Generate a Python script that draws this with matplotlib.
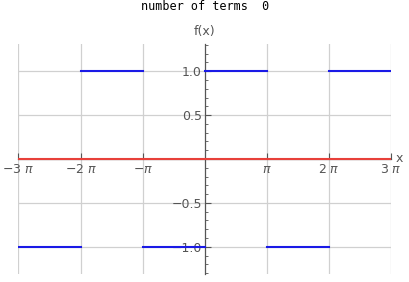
import numpy as np
import matplotlib
matplotlib.use("Agg")
import matplotlib.pyplot as plt
from matplotlib.ticker import MultipleLocator, FixedLocator

# Square wave pieces (start, end in units of pi) and values
seg_start = [-3, -2, -1, 0, 1, 2]
seg_end = [-2, -1, 0, 1, 2, 3]
seg_val = [-1, 1, -1, 1, -1, 1]
# Fourier approximation with 0 terms
approx_x = [-3, 3]
approx_y = [0, 0]
n_terms = 0
xtick_vals = [-3, -2, -1, 1, 2, 3]
xtick_labels = ["\u22123 $\\pi$", "\u22122 $\\pi$", "\u2212$\\pi$", "$\\pi$", "2 $\\pi$", "3 $\\pi$"]
ytick_vals = [-1.0, -0.5, 0.5, 1.0]

W, H = 410, 282
fig = plt.figure(figsize=(W / 100, H / 100), dpi=100)
left = 18.5 / W
right = 391 / W
bottom = (H - 274) / H
top = (H - 44) / H
ax = fig.add_axes([left, bottom, right - left, top - bottom])
ax.set_xlim(-3 * np.pi, 3 * np.pi)
ax.set_ylim(-1.31, 1.31)

gridc = "#d0d0d0"
for xv in xtick_vals:
    ax.axvline(xv * np.pi, color=gridc, lw=0.9, zorder=0)
for yv in ytick_vals:
    ax.axhline(yv, color=gridc, lw=0.9, zorder=0)

for s, e, v in zip(seg_start, seg_end, seg_val):
    ax.plot([s * np.pi, e * np.pi], [v, v], color="#1a1ae6", lw=1.5, zorder=3)
ax.plot(np.array(approx_x) * np.pi, approx_y, color="#e8403a", lw=1.5, zorder=4)

for sp in ["top", "right"]:
    ax.spines[sp].set_visible(False)
ax.spines["left"].set_position(("data", 0))
ax.spines["bottom"].set_position(("data", 0))
axc = "#555555"
ax.spines["left"].set_color(axc)
ax.spines["bottom"].set_color(axc)
ax.spines["left"].set_linewidth(0.9)
ax.spines["bottom"].set_linewidth(0.9)

ax.xaxis.set_major_locator(FixedLocator([v * np.pi for v in xtick_vals]))
ax.set_xticklabels(xtick_labels)
ax.yaxis.set_major_locator(FixedLocator(ytick_vals))
ax.set_yticklabels(["\u22121.0", "\u22120.5", "0.5", "1.0"])
ax.yaxis.set_minor_locator(MultipleLocator(0.1))
ax.tick_params(axis="both", which="major", direction="in", length=4, width=0.8,
               color=axc, labelcolor="#555555", labelsize=9)
ax.tick_params(axis="y", which="minor", direction="in", length=2, width=0.6, color=axc)
ax.tick_params(axis="x", pad=3)
ax.tick_params(axis="y", pad=2)

fig.text(205 / W, 1 - 7 / H, "number of terms  %d" % n_terms, family="DejaVu Sans Mono",
         fontsize=8.5, ha="center", va="center", color="black")
fig.text(205 / W, 1 - 31 / H, "f(x)", fontsize=9, ha="center", va="center", color="#555555")
fig.text(396 / W, 1 - 158 / H, "x", fontsize=9, ha="left", va="center", color="#555555")

fig.savefig("out.png", dpi=100)
